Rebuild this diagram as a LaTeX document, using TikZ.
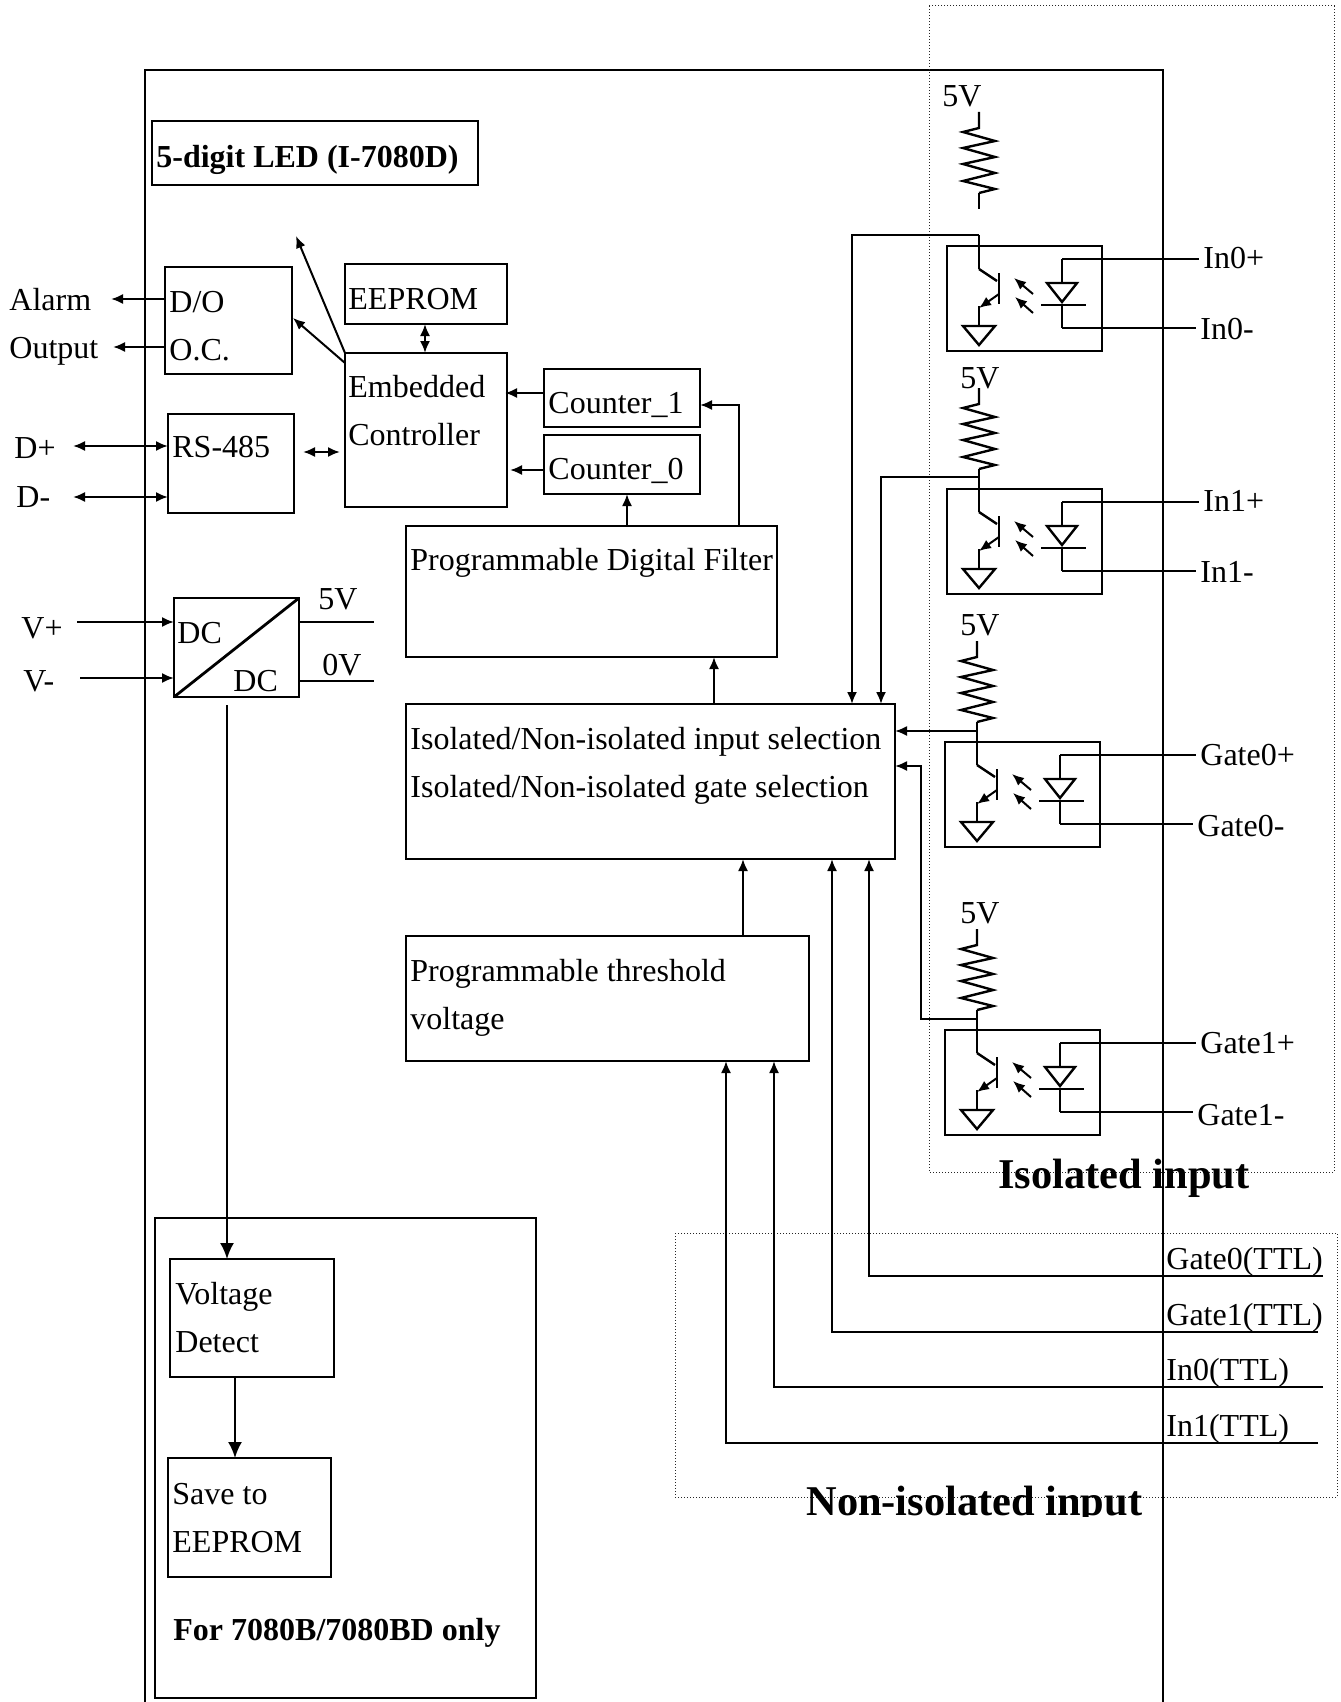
\documentclass[tikz,border=0pt]{standalone}
\usepackage{fontspec}
\setmainfont{Liberation Serif}
\usetikzlibrary{arrows.meta}
\tikzset{
Block/.style={
 draw=black, 
 line width=1.4pt, 
 anchor=north west, 
 inner sep=0pt, 
 outer sep=0pt
 },
Txt/.style={
 anchor=base west, 
 inner sep=0pt, 
 font=\fontsize{16}{16}\selectfont
 },
BTxt/.style={
 anchor=base west, 
 inner sep=0pt, 
 font=\fontsize{16}{16}\selectfont\bfseries
 },
BigTxt/.style={
 anchor=base west, 
 inner sep=0pt, 
 font=\fontsize{21.2}{21.2}\selectfont\bfseries
 },
PinTxt/.style={
 anchor=base west, 
 inner ysep=0pt, 
 inner xsep=2pt, 
 font=\fontsize{16}{16}\selectfont
 },
Wire/.style={
 draw=black, 
 line width=1.2pt
 },
Arrow/.style={
 draw=black, 
 line width=1pt, 
 -{Latex[length=6pt,width=5pt]}
 },
BigArrow/.style={
 draw=black, 
 line width=1pt, 
 -{Latex[length=8pt,width=7pt]}
 },
DArrow/.style={
 draw=black, 
 line width=1pt, 
 {Latex[length=6pt,width=5pt]}-{Latex[length=6pt,width=5pt]}
 },
Zone/.style={
 draw=black!85, 
 line width=0.5pt, 
 densely dotted
 },
Resistor/.pic={
 \coordinate (-top) at (0,0);
 \coordinate (-bot) at (0,81);
 \draw[Wire,line join=miter] (0,0) -- (0,16) -- (-16,20) -- (16,29) -- (-16,36) -- (16,45) -- (-16,52) -- (16,61) -- (-16,69) -- (16,77) -- (0,81);
 },
Opto/.pic={
 \node[Block,minimum width=77.5pt,minimum height=52.5pt] (-box) at (0,0) {};
 \coordinate (-col) at (32,23);
 \coordinate (-plus) at (115,13);
 \coordinate (-minus) at (115,82);
 \draw[Wire] (-col) -- (50,35);
 \draw[Wire] (52,27) -- (52,58);
 \draw[Arrow] (52,48) -- (32,62);
 \draw[Wire] (32,60) -- (32,80);
 \draw[Wire,line join=miter] (16,80) -- (48,80) -- (32,99) -- cycle;
 \draw[Arrow] (86,48) -- (67,32);
 \draw[Arrow] (86,67) -- (68,51);
 \draw[Wire,line join=miter] (100,37) -- (130,37) -- (115,56) -- cycle;
 \draw[Wire] (94,59) -- (139,59);
 \draw[Wire] (-plus) -- (115,37);
 \draw[Wire] (115,59) -- (-minus);
 }
}
\begin{document}
\begin{tikzpicture}[x=0.5pt,y=-0.5pt]
\useasboundingbox (0,0) rectangle (1340,1702);
\draw[Wire,line width=1pt] (145,1702) -- (145,70) -- (1163,70) -- (1163,1702);
\draw[Zone] (929,6) rectangle (1334,1172);
\draw[Zone] (675,1233) rectangle (1337,1497);

\node[Block,minimum width=163pt,minimum height=32pt] (led) at (152,121) {};
\node[BTxt] (ledtxt) at (156,167) {5-digit LED (I-7080D)};

\node[Block,minimum width=63.5pt,minimum height=53.5pt] (do) at (165,267) {};
\node[Txt] (dotxt) at (169,312) {D/O};
\node[Txt] (octxt) at (169,360) {O.C.};
\node[Block,minimum width=81pt,minimum height=30pt] (eeprom) at (345,264) {};
\node[Txt] (eepromtxt) at (348,309) {EEPROM};
\node[Block,minimum width=81pt,minimum height=77pt] (emb) at (345,353) {};
\node[Txt] (embtxt) at (348,397) {Embedded};
\node[Txt] (ctrltxt) at (348,445) {Controller};
\node[Block,minimum width=78pt,minimum height=29pt] (cnta) at (544,369) {};
\node[Txt] (cntatxt) at (548,413) {Counter\_1};
\node[Block,minimum width=78pt,minimum height=29.5pt] (cntb) at (544,435) {};
\node[Txt] (cntbtxt) at (548,479) {Counter\_0};
\node[Block,minimum width=63pt,minimum height=49.5pt] (rs) at (168,414) {};
\node[Txt] (rstxt) at (172,457) {RS-485};
\node[Block,minimum width=62.5pt,minimum height=49.5pt] (dc) at (174,598) {};
\draw[Wire,line width=1.4pt] (dc.south west) -- (dc.north east);
\node[Txt] (dcatxt) at (177,643) {DC};
\node[Txt] (dcbtxt) at (233,691) {DC};
\node[Block,minimum width=185.5pt,minimum height=65.5pt] (filter) at (406,526) {};
\node[Txt] (filtertxt) at (410,570) {Programmable Digital Filter};
\node[Block,minimum width=244.5pt,minimum height=77.5pt] (iso) at (406,704) {};
\node[Txt] (isoatxt) at (410,749) {Isolated/Non-isolated input selection};
\node[Txt] (isobtxt) at (410,797) {Isolated/Non-isolated gate selection};
\node[Block,minimum width=201.5pt,minimum height=62.5pt] (thr) at (406,936) {};
\node[Txt] (thratxt) at (410,981) {Programmable threshold};
\node[Txt] (thrbtxt) at (410,1029) {voltage};

\node[Block,minimum width=190.5pt,minimum height=240pt] (only) at (155,1218) {};
\node[Block,minimum width=82pt,minimum height=59pt] (vd) at (170,1259) {};
\node[Txt] (vdatxt) at (175,1304) {Voltage};
\node[Txt] (vdbtxt) at (175,1352) {Detect};
\node[Block,minimum width=81.5pt,minimum height=59.5pt] (save) at (168,1458) {};
\node[Txt] (saveatxt) at (172,1504) {Save to};
\node[Txt] (savebtxt) at (172,1552) {EEPROM};
\node[BTxt] (onlytxt) at (173,1640) {For 7080B/7080BD only};

\node[Txt] (alarm) at (9,310) {Alarm};
\node[Txt] (output) at (9,358) {Output};
\node[Txt] (dp) at (14,458) {D+};
\node[Txt] (dm) at (16,507) {D-};
\node[Txt] (vp) at (21,638) {V+};
\node[Txt] (vm) at (23,691) {V-};
\node[Txt] (fivev) at (318,609) {5V};
\node[Txt] (zerov) at (322,675) {0V};

\coordinate (alarmtip) at (111,299);
\coordinate (outputtip) at (113,347);
\coordinate (dptip) at (73,446);
\coordinate (dmtip) at (73,497);
\coordinate (vpstart) at (77,622);
\coordinate (vmstart) at (80,678);
\coordinate (fiveend) at (374,622);
\coordinate (zeroend) at (374,681);
\draw[Arrow] (alarmtip -| do.west) -- (alarmtip);
\draw[Arrow] (outputtip -| do.west) -- (outputtip);
\draw[DArrow] (dptip) -- (dptip -| rs.west);
\draw[DArrow] (dmtip) -- (dmtip -| rs.west);
\draw[Arrow] (vpstart) -- (vpstart -| dc.west);
\draw[Arrow] (vmstart) -- (vmstart -| dc.west);
\draw[Wire] (fiveend -| dc.east) -- (fiveend);
\draw[Wire] (zeroend -| dc.east) -- (zeroend);

\coordinate (emblow) at (345,363);
\coordinate (dotip) at (293,318);
\coordinate (freetip) at (296,236);
\coordinate (rsstart) at (303,452);
\coordinate (embstart) at (340,452);
\coordinate (cntaleft) at (505,393);
\coordinate (cntbleft) at (510,470);
\coordinate (cntamid) at (739,405);
\draw[Arrow] (emblow) -- (dotip);
\draw[Arrow] (emb.north west) -- (freetip);
\draw[DArrow] (eeprom.south -| 425,0) -- (emb.north -| 425,0);
\draw[DArrow] (rsstart) -- (embstart);
\draw[Arrow] (cntaleft -| cnta.west) -- (cntaleft);
\draw[Arrow] (cntbleft -| cntb.west) -- (cntbleft);
\draw[Arrow] (filter.north -| cntamid) -- (cntamid) -- (cntamid -| cnta.east);
\draw[Arrow] (filter.north -| 627,0) -- (cntb.south -| 627,0);
\draw[Arrow] (iso.north -| 714,0) -- (filter.south -| 714,0);
\draw[Arrow] (thr.north -| 743,0) -- (iso.south -| 743,0);
\draw[BigArrow] (227,705) -- (vd.north -| 227,0);
\draw[BigArrow] (vd.south -| 235,0) -- (save.north -| 235,0);

\pic (opa) at (947,246) {Opto};
\pic (opb) at (947,489) {Opto};
\pic (opc) at (945,742) {Opto};
\pic (opd) at (945,1030) {Opto};
\pic (resa) at (979,112) {Resistor};
\pic (resb) at (979,388) {Resistor};
\pic (resc) at (977,641) {Resistor};
\pic (resd) at (977,929) {Resistor};
\node[Txt] (fva) at (942,107) {5V};
\node[Txt] (fvb) at (960,388) {5V};
\node[Txt] (fvc) at (960,635) {5V};
\node[Txt] (fvd) at (960,923) {5V};

\coordinate (stuba) at (979,209);
\coordinate (juncta) at (979,235);
\coordinate (junctb) at (979,477);
\coordinate (junctc) at (977,731);
\coordinate (junctd) at (977,1019);
\coordinate (tipa) at (852,704);
\coordinate (tipb) at (881,704);
\coordinate (tipd) at (921,766);
\draw[Wire] (resa-bot) -- (stuba);
\draw[Wire] (juncta) -- (opa-col);
\draw[Wire] (resb-bot) -- (opb-col);
\draw[Wire] (resc-bot) -- (opc-col);
\draw[Wire] (resd-bot) -- (opd-col);
\draw[Arrow] (juncta) -| (tipa);
\draw[Arrow] (junctb) -| (tipb);
\draw[Arrow] (junctc) -- (junctc -| iso.east);
\draw[Arrow] (junctd) -| (tipd) -- (tipd -| iso.east);

\node[PinTxt] (ina) at (1199,268) {In0+};
\node[PinTxt] (inb) at (1196,339) {In0-};
\node[PinTxt] (inc) at (1199,511) {In1+};
\node[PinTxt] (ind) at (1196,582) {In1-};
\node[PinTxt] (gta) at (1196,765) {Gate0+};
\node[PinTxt] (gtb) at (1193,836) {Gate0-};
\node[PinTxt] (gtc) at (1196,1053) {Gate1+};
\node[PinTxt] (gtd) at (1193,1125) {Gate1-};
\draw[Wire] (opa-plus) -- (opa-plus -| ina.west);
\draw[Wire] (opa-minus) -- (opa-minus -| inb.west);
\draw[Wire] (opb-plus) -- (opb-plus -| inc.west);
\draw[Wire] (opb-minus) -- (opb-minus -| ind.west);
\draw[Wire] (opc-plus) -- (opc-plus -| gta.west);
\draw[Wire] (opc-minus) -- (opc-minus -| gtb.west);
\draw[Wire] (opd-plus) -- (opd-plus -| gtc.west);
\draw[Wire] (opd-minus) -- (opd-minus -| gtd.west);

\node[Txt] (gttla) at (1166,1269) {Gate0(TTL)};
\node[Txt] (gttlb) at (1166,1325) {Gate1(TTL)};
\node[Txt] (ittla) at (1166,1380) {In0(TTL)};
\node[Txt] (ittlb) at (1166,1436) {In1(TTL)};
\coordinate (gttlaend) at (1323,1276);
\coordinate (gttlbend) at (1318,1332);
\coordinate (ittlaend) at (1323,1387);
\coordinate (ittlbend) at (1318,1443);
\coordinate (gttlatip) at (869,859);
\coordinate (gttlbtip) at (832,859);
\coordinate (ittlatip) at (774,1061);
\coordinate (ittlbtip) at (726,1061);
\draw[Arrow] (gttlaend) -| (gttlatip);
\draw[Arrow] (gttlbend) -| (gttlbtip);
\draw[Arrow] (ittlaend) -| (ittlatip);
\draw[Arrow] (ittlbend) -| (ittlbtip);

\node[BigTxt] (isolated) at (998,1188) {Isolated input};
\begin{scope}
\clip (790,1480) rectangle (1150,1516);
\node[BigTxt] (nonisolated) at (806,1515) {Non-isolated input};
\end{scope}
\end{tikzpicture}
\end{document}
